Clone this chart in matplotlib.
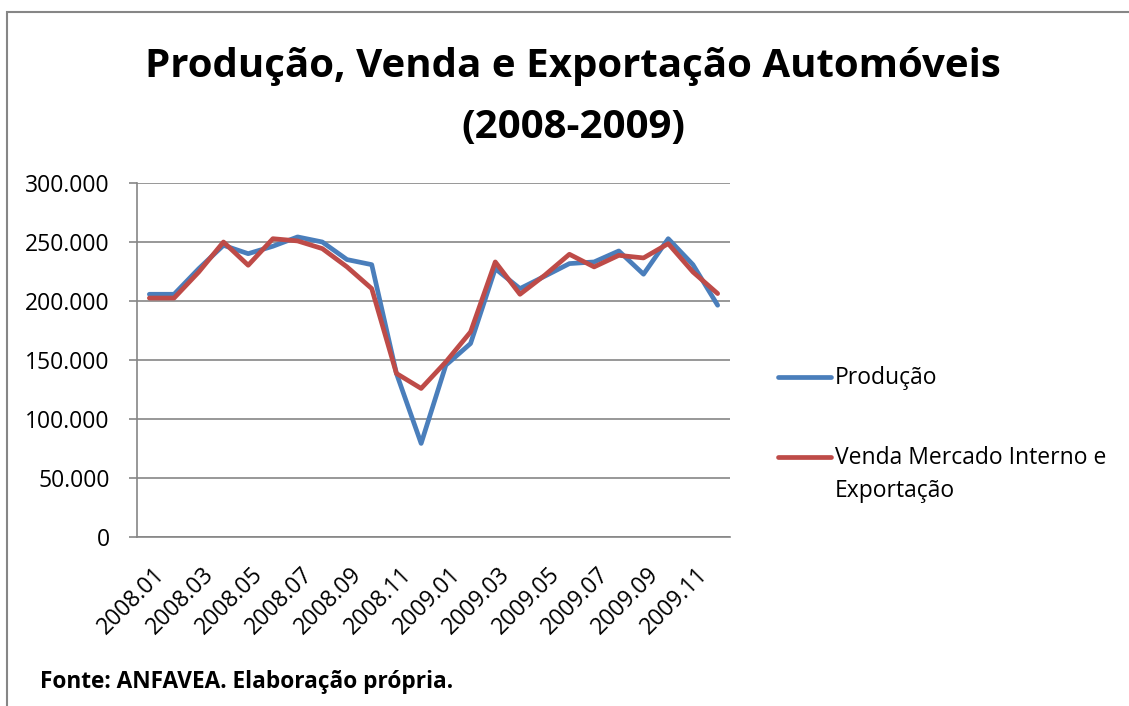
import numpy as np
import matplotlib.pyplot as plt
from matplotlib.patches import Rectangle
from matplotlib.lines import Line2D
from matplotlib.transforms import ScaledTranslation

# monthly data, 2008.01 - 2009.12
meses = ["%d.%02d" % (a, m) for a in (2008, 2009) for m in range(1, 13)]
producao = [205700, 205700, 227400, 247200, 240100, 246400, 254300, 250000,
            235100, 230800, 138600, 79300, 145600, 164000, 227400, 210500,
            221000, 231700, 233100, 242400, 222700, 252800, 230800, 196400]
venda_export = [202500, 202500, 224600, 250000, 230300, 252800, 250900, 244400,
                228900, 210500, 138600, 125900, 148400, 173800, 233100, 205700,
                221800, 239600, 228900, 238700, 236500, 248600, 224600, 206300]
yticks = [0, 50000, 100000, 150000, 200000, 250000, 300000]
nomes = ['Produção', 'Venda Mercado Interno e\nExportação']

plt.rcParams['font.family'] = ['Open Sans', 'DejaVu Sans']

W, H = 1129, 706
fig = plt.figure(figsize=(W/100, H/100), dpi=100)
ax = fig.add_axes([137/W, 1-537/H, (730-137)/W, (537-183)/H])

x = np.arange(len(meses))
l1, = ax.plot(x, producao, color='#4A7EBB', lw=3.4,
              solid_capstyle='round', solid_joinstyle='round')
l2, = ax.plot(x, venda_export, color='#BE4B48', lw=3.4,
              solid_capstyle='round', solid_joinstyle='round')

ax.set_xlim(-0.5, len(meses)-0.5)
ax.set_ylim(0, 300000)
ax.set_yticks(yticks)
ax.set_yticklabels([f"{v:,}".replace(",", ".") for v in yticks], fontsize=16.5)
ax.yaxis.grid(True, color='#868686', lw=1.2)
ax.set_axisbelow(True)
ax.tick_params(axis='y', length=6, color='#868686', width=1.2, pad=13.5)
ax.set_xticks(x[::2])
ax.set_xticklabels(meses[::2], rotation=45, ha='right', rotation_mode='anchor',
                   fontsize=16.5)
ax.tick_params(axis='x', length=0, pad=4)
off = ScaledTranslation(0.03, -0.2, fig.dpi_scale_trans)
for lab in ax.get_xticklabels():
    lab.set_transform(lab.get_transform() + off)
for s in ['top', 'right']:
    ax.spines[s].set_visible(False)
for s in ['left', 'bottom']:
    ax.spines[s].set_color('#868686')
    ax.spines[s].set_linewidth(1.2)

fig.text(573/W, 1-66/H, "Produção, Venda e Exportação Automóveis",
         ha='center', va='center', fontsize=29, fontweight='bold')
fig.text(573/W, 1-127/H, "(2008-2009)",
         ha='center', va='center', fontsize=29, fontweight='bold')

# legend drawn by hand to match the source layout
for ln, nome, yy in [(l1, nomes[0], 377), (l2, nomes[1], 457)]:
    fig.add_artist(Line2D([778/W, 831/W], [1-yy/H, 1-yy/H], color=ln.get_color(),
                          lw=3.4, solid_capstyle='round', transform=fig.transFigure))
    fig.text(835/W, 1-(yy-11)/H, nome, ha='left', va='top', fontsize=16.5,
             linespacing=1.5)

fig.text(40/W, 1-682/H, "Fonte: ANFAVEA. Elaboração própria.",
         ha='left', va='center', fontsize=16.3, fontweight='bold')

fig.patches.append(Rectangle((7/W, -0.1), 1.2, 1-12/H+0.1,
                             transform=fig.transFigure, fill=False,
                             edgecolor='#868686', lw=1.5))

fig.savefig('out.png', dpi=100)
